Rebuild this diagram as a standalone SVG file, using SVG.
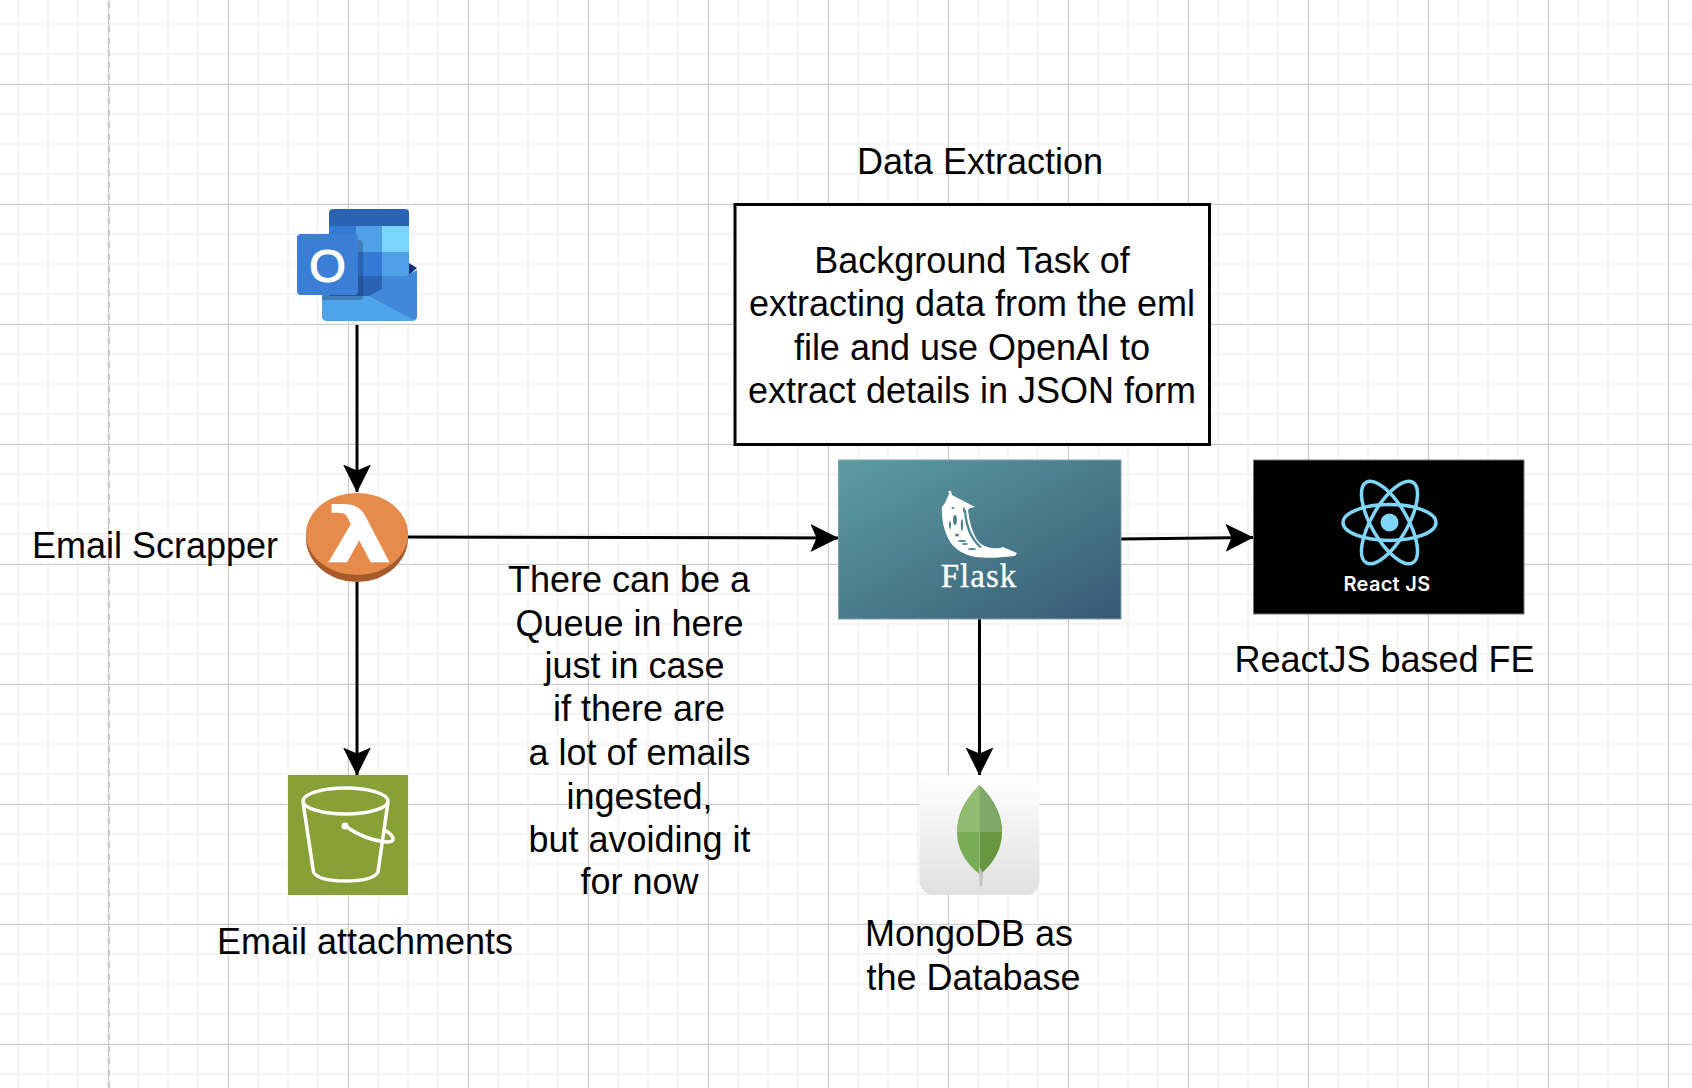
<svg xmlns="http://www.w3.org/2000/svg" width="1692" height="1088" viewBox="0 0 1692 1088">
<style>
.t{font-family:"Liberation Sans",Arial,sans-serif;font-size:36px;fill:#000;text-anchor:middle}
.c{fill:none;stroke:#000;stroke-width:3}
</style>
<defs>
<pattern id="minor" width="30" height="30" patternUnits="userSpaceOnUse" x="3" y="9"><path d="M15 0V30M0 15H30" stroke="#f4f4f4" stroke-width="2" fill="none"/></pattern>
<pattern id="major" width="120" height="120" patternUnits="userSpaceOnUse" x="168" y="24"><path d="M60.5 0V120M0 60.500H120" stroke="#cdcdcd" stroke-width="1" fill="none"/></pattern>
<marker id="arrow" markerUnits="userSpaceOnUse" markerWidth="28" markerHeight="30" refX="27.500" refY="15" orient="auto"><path d="M0 1L28 15L0 29L6 15Z" fill="#000"/></marker>
<linearGradient id="fg" x1="0" y1="0" x2="1" y2="1"><stop offset="0" stop-color="#5c9da1"/><stop offset="1" stop-color="#375a75"/></linearGradient>
<linearGradient id="mg" x1="0" y1="0" x2="0" y2="1"><stop offset="0" stop-color="#ffffff"/><stop offset="1" stop-color="#e0e0e0"/></linearGradient>
</defs>
<g id="canvas-grid">
<rect width="1692" height="1088" fill="#fff"/>
<rect width="1692" height="1088" fill="url(#minor)"/>
<rect width="1692" height="1088" fill="url(#major)"/>
<path d="M109 2V1088" stroke="#c8c8c8" stroke-width="2" stroke-dasharray="6 6" fill="none"/>
</g>
<g id="connectors">
<path class="c" marker-end="url(#arrow)" d="M357 325V492"/>
<path class="c" marker-end="url(#arrow)" d="M408 537L838 538"/>
<path class="c" marker-end="url(#arrow)" d="M357 582V775"/>
<path class="c" marker-end="url(#arrow)" d="M1121 539L1253 537.500"/>
<path class="c" marker-end="url(#arrow)" d="M979.500 619V775"/>
</g>
<g id="outlook">
<path d="M322 275H416.500Q417 275 417 277V316Q417 321 412 321H327Q322 321 322 316Z" fill="#4fa3e8"/>
<path d="M409 263L417 268L409 275Z" fill="#12317a"/>
<path d="M329 213Q329 209 333 209H405Q409 209 409 213V226H329Z" fill="#2a62b4"/>
<rect x="329" y="226" width="27" height="26" fill="#3479d4"/><rect x="356" y="226" width="26" height="26" fill="#50a0e6"/><rect x="382" y="226" width="27" height="26" fill="#7bd5ff"/>
<rect x="329" y="252" width="27" height="24" fill="#3479d4"/><rect x="356" y="252" width="26" height="24" fill="#3479d4"/><rect x="382" y="252" width="27" height="24" fill="#50a0e6"/>
<rect x="329" y="276" width="27" height="20" fill="#2a62b4"/><rect x="356" y="276" width="26" height="20" fill="#2a62b4"/><path d="M382 276H409L382 294Z" fill="#3f87d9"/>
<path d="M369 296L417 270V316Q417 320 413 319.500Z" fill="#4188d8"/>
<path d="M322 300H369L409 320H327Q322 320 322 315Z" fill="#4fa3e8"/>
<path d="M322 240H359Q363 240 363 244V296Q363 300 359 300H322Z" fill="#1d3a66" opacity=".35"/>
<rect x="297" y="234" width="61" height="61" rx="4" fill="#3a7fd5"/>
<text x="327.500" y="282" font-family="Liberation Sans, Arial, sans-serif" font-size="47" fill="#fff" stroke="#fff" stroke-width="1.200" text-anchor="middle">O</text>
</g>
<g id="lambda">
<ellipse cx="357" cy="538" rx="51" ry="44" fill="#a65a2a"/>
<ellipse cx="357" cy="534" rx="51" ry="41" fill="#e68b4c"/>
<text transform="translate(359 562) scale(1.400 1)" font-family="DejaVu Sans, sans-serif" font-weight="700" font-size="76" fill="#fff" text-anchor="middle">λ</text>
</g>
<text class="t" x="155" y="558">Email Scrapper</text>
<g id="s3-bucket">
<rect x="288" y="775" width="120" height="120" fill="#87a137"/>
<g fill="none" stroke="#fff" stroke-width="3.500" stroke-linejoin="round">
<ellipse cx="345.500" cy="801" rx="42.500" ry="13"/>
<path d="M303 802L313.500 872Q318 881 345.500 881Q373 881 378 872L388 802"/>
<path d="M345 826Q365 840 386 842Q396 842 392 836Q388 831 383 830"/>
</g>
<circle cx="345" cy="826" r="3.500" fill="#fff"/>
</g>
<text class="t" x="365" y="954">Email attachments</text>
<g id="queue-note">
<text class="t" x="629" y="592">There can be a</text>
<text class="t" x="629.500" y="636">Queue in here</text>
<text class="t" x="634.500" y="678">just in case</text>
<text class="t" x="639" y="721">if there are</text>
<text class="t" x="639.500" y="765">a lot of emails</text>
<text class="t" x="639.500" y="809">ingested,</text>
<text class="t" x="639.500" y="852">but avoiding it</text>
<text class="t" x="639.500" y="894">for now</text>
</g>
<text class="t" x="980" y="174">Data Extraction</text>
<g id="background-task">
<rect x="735" y="204.500" width="474.500" height="240" fill="#fff" stroke="#000" stroke-width="3"/>
<text class="t" x="972" y="273">Background Task of</text>
<text class="t" x="972" y="316">extracting data from the eml</text>
<text class="t" x="972" y="360">file and use OpenAI to</text>
<text class="t" x="972" y="403">extract details in JSON form</text>
</g>
<g id="flask">
<rect x="838.500" y="460" width="282.500" height="159" fill="url(#fg)" stroke="#7f9fac" stroke-width="1"/>
<path d="M949 494L948.500 491L951 491L952 495L975 507L970 508L968 510Q970 528 977 540Q985 550 1000 548L1003 547L1017 553L1015 556Q990 559 975 557Q955 553 948 538Q941 524 942 507L945 503Z" fill="#fff"/>
<g fill="#4f8590"><ellipse cx="953" cy="508" rx="1.500" ry="1"/><ellipse cx="955" cy="520" rx="2" ry="5"/><ellipse cx="962" cy="525" rx="1.200" ry="6"/><ellipse cx="957" cy="535" rx="2" ry="1.500"/><ellipse cx="964" cy="510" rx="1" ry="3"/><path d="M966 510Q968 535 982 547L980 548Q965 535 964 510Z"/><ellipse cx="965" cy="544" rx="3" ry="1"/><ellipse cx="950" cy="525" rx="1" ry="4"/><ellipse cx="962" cy="541" rx="4" ry="1"/><ellipse cx="972" cy="549" rx="4" ry="1"/></g>
<text x="979" y="587" font-family="Liberation Serif, Times New Roman, serif" font-size="33" letter-spacing="1" fill="#fff" stroke="#fff" stroke-width=".3" text-anchor="middle">Flask</text>
</g>
<g id="react">
<rect x="1253.500" y="460" width="270.500" height="154" fill="#000" stroke="#777" stroke-width="1"/>
<g fill="none" stroke="#7fd6f7" stroke-width="3.500">
<ellipse cx="1389.500" cy="522.500" rx="46.500" ry="18"/>
<ellipse cx="1389.500" cy="522.500" rx="46.500" ry="18" transform="rotate(60 1389.500 522.500)"/>
<ellipse cx="1389.500" cy="522.500" rx="46.500" ry="18" transform="rotate(-60 1389.500 522.500)"/>
</g>
<circle cx="1389.500" cy="522.500" r="9" fill="#7fd6f7"/>
<text x="1387" y="590.500" font-family="Inter, sans-serif" font-weight="600" font-size="20" letter-spacing=".3" fill="#fff" text-anchor="middle">React JS</text>
</g>
<text class="t" x="1384.500" y="672">ReactJS based FE</text>
<g id="mongodb">
<rect x="919.500" y="775" width="120" height="120" rx="14" fill="url(#mg)"/>
<path d="M979.500 785Q1002 807 1002 832Q1002 855 982 873L979.500 874Z" fill="#66963f"/>
<path d="M979.500 785Q957 807 957 832Q957 855 978 873L979.500 874Z" fill="#78ad55"/>
<path d="M979.500 785Q1000 806 1002 832H979.500Z" fill="#80a868"/>
<path d="M979.500 785Q959 806 957 832H979.500Z" fill="#93bc72"/>
<path d="M979 866L983 873L982 886H979.500Z" fill="#c3c3c3"/>
</g>
<g id="mongodb-label">
<text class="t" x="969" y="946">MongoDB as</text>
<text class="t" x="973.500" y="990">the Database</text>
</g>
</svg>
